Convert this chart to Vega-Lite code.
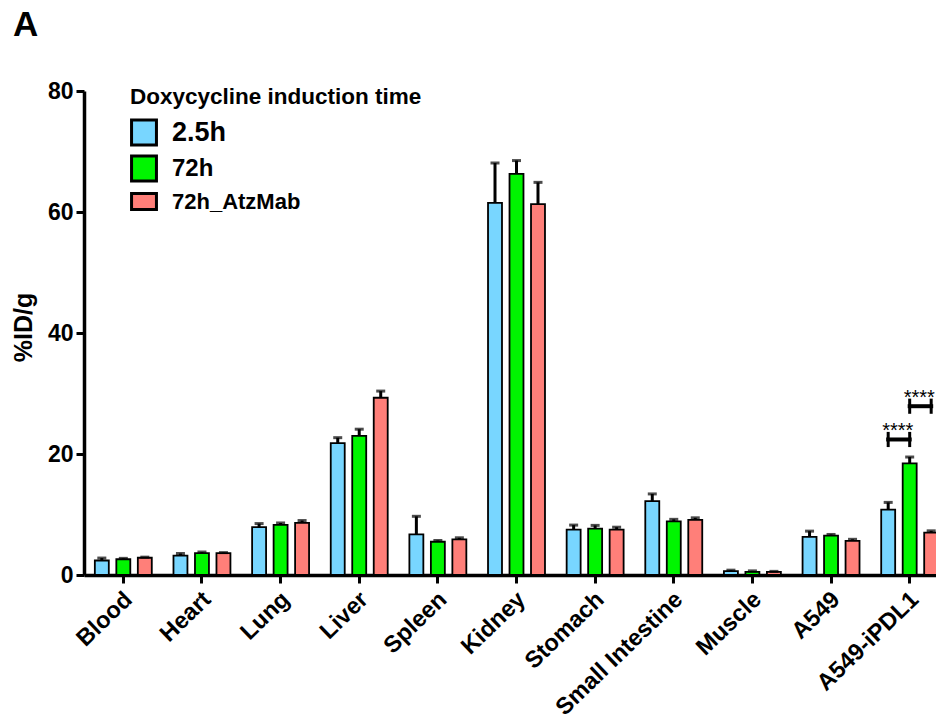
{
  "$schema": "https://vega.github.io/schema/vega-lite/v6.json",
  "width": 852,
  "height": 484,
  "autosize": {"type": "none"},
  "padding": {"left": 84, "top": 91, "right": 0, "bottom": 146},
  "background": "white",
  "title": {
    "text": "A",
    "anchor": "start",
    "frame": "group",
    "font": "Liberation Sans",
    "fontSize": 35,
    "fontWeight": "bold",
    "color": "black",
    "dx": -71,
    "dy": -33
  },
  "config": {
    "view": {"stroke": null},
    "font": "Liberation Sans"
  },
  "datasets": {
    "biodist": [
      {"organ": "Blood", "group": "2.5h", "mean": 2.4, "upper": 2.8},
      {"organ": "Blood", "group": "72h", "mean": 2.6, "upper": 2.75},
      {"organ": "Blood", "group": "72h_AtzMab", "mean": 2.85, "upper": 2.95},
      {"organ": "Heart", "group": "2.5h", "mean": 3.2, "upper": 3.55},
      {"organ": "Heart", "group": "72h", "mean": 3.6, "upper": 3.8},
      {"organ": "Heart", "group": "72h_AtzMab", "mean": 3.6, "upper": 3.7},
      {"organ": "Lung", "group": "2.5h", "mean": 7.9, "upper": 8.5},
      {"organ": "Lung", "group": "72h", "mean": 8.3, "upper": 8.6},
      {"organ": "Lung", "group": "72h_AtzMab", "mean": 8.6, "upper": 9.0},
      {"organ": "Liver", "group": "2.5h", "mean": 21.8, "upper": 22.7},
      {"organ": "Liver", "group": "72h", "mean": 23.0, "upper": 24.1},
      {"organ": "Liver", "group": "72h_AtzMab", "mean": 29.3, "upper": 30.4},
      {"organ": "Spleen", "group": "2.5h", "mean": 6.7, "upper": 9.7},
      {"organ": "Spleen", "group": "72h", "mean": 5.5, "upper": 5.7},
      {"organ": "Spleen", "group": "72h_AtzMab", "mean": 5.9, "upper": 6.15},
      {"organ": "Kidney", "group": "2.5h", "mean": 61.5, "upper": 68.1},
      {"organ": "Kidney", "group": "72h", "mean": 66.3, "upper": 68.5},
      {"organ": "Kidney", "group": "72h_AtzMab", "mean": 61.3, "upper": 64.9},
      {"organ": "Stomach", "group": "2.5h", "mean": 7.5, "upper": 8.25},
      {"organ": "Stomach", "group": "72h", "mean": 7.65, "upper": 8.2},
      {"organ": "Stomach", "group": "72h_AtzMab", "mean": 7.5, "upper": 7.9},
      {"organ": "Small Intestine", "group": "2.5h", "mean": 12.2, "upper": 13.4},
      {"organ": "Small Intestine", "group": "72h", "mean": 8.85, "upper": 9.2},
      {"organ": "Small Intestine", "group": "72h_AtzMab", "mean": 9.1, "upper": 9.45},
      {"organ": "Muscle", "group": "2.5h", "mean": 0.63, "upper": 0.8},
      {"organ": "Muscle", "group": "72h", "mean": 0.53, "upper": 0.68},
      {"organ": "Muscle", "group": "72h_AtzMab", "mean": 0.53, "upper": 0.6},
      {"organ": "A549", "group": "2.5h", "mean": 6.3, "upper": 7.25},
      {"organ": "A549", "group": "72h", "mean": 6.5, "upper": 6.7},
      {"organ": "A549", "group": "72h_AtzMab", "mean": 5.65, "upper": 5.9},
      {"organ": "A549-iPDL1", "group": "2.5h", "mean": 10.8, "upper": 12.0},
      {"organ": "A549-iPDL1", "group": "72h", "mean": 18.45, "upper": 19.5},
      {"organ": "A549-iPDL1", "group": "72h_AtzMab", "mean": 7.0, "upper": 7.3}
    ],
    "brackets": [
      {"organ": "A549-iPDL1", "pair": "2.5h vs 72h", "group": "2.5h", "level": 22.4},
      {"organ": "A549-iPDL1", "pair": "2.5h vs 72h", "group": "72h", "level": 22.4},
      {"organ": "A549-iPDL1", "pair": "72h vs 72h_AtzMab", "group": "72h", "level": 27.9},
      {"organ": "A549-iPDL1", "pair": "72h vs 72h_AtzMab", "group": "72h_AtzMab", "level": 27.9}
    ],
    "stars": [
      {"organ": "A549-iPDL1", "group": "2.5h", "level": 22.4, "label": "****"},
      {"organ": "A549-iPDL1", "group": "72h", "level": 27.9, "label": "****"}
    ]
  },
  "layer": [
    {
      "data": {"name": "biodist"},
      "mark": {"type": "bar", "stroke": "black", "strokeWidth": 1.8},
      "encoding": {
        "x": {
          "field": "organ",
          "type": "nominal",
          "sort": null,
          "scale": {
            "domain": ["Blood", "Heart", "Lung", "Liver", "Spleen", "Kidney", "Stomach", "Small Intestine", "Muscle", "A549", "A549-iPDL1"],
            "range": [0, 865],
            "paddingInner": 0.18,
            "paddingOuter": 0.09
          },
          "axis": {
            "title": null,
            "labelAngle": -44,
            "labelFontSize": 23.5,
            "labelFontWeight": "bold",
            "labelColor": "black",
            "labelPadding": 4,
            "labelOffset": -3,
            "labelLimit": 0,
            "tickSize": 8,
            "tickWidth": 3,
            "tickColor": "black",
            "domainWidth": 3.5,
            "domainColor": "black"
          }
        },
        "xOffset": {
          "field": "group",
          "type": "nominal",
          "scale": {"domain": ["2.5h", "72h", "72h_AtzMab"], "paddingInner": 0.35, "paddingOuter": 0.175}
        },
        "y": {
          "field": "mean",
          "type": "quantitative",
          "scale": {"domain": [0, 80], "nice": false},
          "axis": {
            "title": "%ID/g",
            "values": [0, 20, 40, 60, 80],
            "grid": false,
            "labelFontSize": 23,
            "labelFontWeight": "bold",
            "labelColor": "black",
            "labelPadding": 3,
            "tickSize": 8,
            "tickWidth": 3,
            "tickColor": "black",
            "domainWidth": 3.5,
            "domainColor": "black",
            "titleFontSize": 25,
            "titleFontWeight": "bold",
            "titleColor": "black",
            "titlePadding": 11,
            "titleY": 236
          }
        },
        "color": {
          "field": "group",
          "type": "nominal",
          "scale": {"domain": ["2.5h", "72h", "72h_AtzMab"], "range": ["#78D6FF", "#00F500", "#FF7F79"]},
          "legend": {
            "title": "Doxycycline induction time",
            "orient": "none",
            "legendX": 46,
            "legendY": -5,
            "titleFontSize": 22.5,
            "titleFontWeight": "bold",
            "titleColor": "black",
            "titleLimit": 0,
            "titlePadding": 10,
            "labelFontSize": {"expr": "datum.label == '2.5h' ? 27 : datum.label == '72h' ? 24 : 22"},
            "labelFontWeight": "bold",
            "labelColor": "black",
            "labelLimit": 0,
            "labelOffset": 14,
            "symbolType": {"expr": "datum.label == '72h_AtzMab' ? 'M-1,-0.65H1V0.65H-1Z' : 'square'"},
            "symbolSize": 620,
            "symbolStrokeColor": "black",
            "symbolStrokeWidth": 1.5,
            "symbolOpacity": 1,
            "rowPadding": -2
          }
        }
      }
    },
    {
      "data": {"name": "biodist"},
      "mark": {"type": "rule", "color": "black"},
      "encoding": {
        "x": {"field": "organ", "type": "nominal", "sort": null},
        "xOffset": {"field": "group", "type": "nominal"},
        "y": {"field": "mean", "type": "quantitative"},
        "y2": {"field": "upper"},
        "strokeWidth": {
          "field": "group",
          "type": "ordinal",
          "scale": {"domain": ["2.5h", "72h", "72h_AtzMab"], "range": [3, 3, 1.6]},
          "legend": null
        }
      }
    },
    {
      "data": {"name": "biodist"},
      "mark": {"type": "tick", "color": "black", "thickness": 3, "size": 9},
      "encoding": {
        "x": {"field": "organ", "type": "nominal", "sort": null},
        "xOffset": {"field": "group", "type": "nominal"},
        "y": {"field": "upper", "type": "quantitative"}
      }
    },
    {
      "data": {"name": "brackets"},
      "mark": {"type": "line", "color": "black", "strokeWidth": 4, "strokeCap": "square"},
      "encoding": {
        "x": {"field": "organ", "type": "nominal", "sort": null},
        "xOffset": {"field": "group", "type": "nominal"},
        "y": {"field": "level", "type": "quantitative"},
        "detail": {"field": "pair", "type": "nominal"}
      }
    },
    {
      "data": {"name": "brackets"},
      "mark": {"type": "point", "shape": "M0,-1V1", "size": 230, "filled": false, "stroke": "black", "strokeWidth": 3, "opacity": 1},
      "encoding": {
        "x": {"field": "organ", "type": "nominal", "sort": null},
        "xOffset": {"field": "group", "type": "nominal"},
        "y": {"field": "level", "type": "quantitative"}
      }
    },
    {
      "data": {"name": "stars"},
      "mark": {"type": "text", "align": "left", "baseline": "alphabetic", "dx": -6, "dy": -2.5, "fontSize": 20, "color": "black"},
      "encoding": {
        "x": {"field": "organ", "type": "nominal", "sort": null},
        "xOffset": {"field": "group", "type": "nominal"},
        "y": {"field": "level", "type": "quantitative"},
        "text": {"field": "label"}
      }
    }
  ]
}
